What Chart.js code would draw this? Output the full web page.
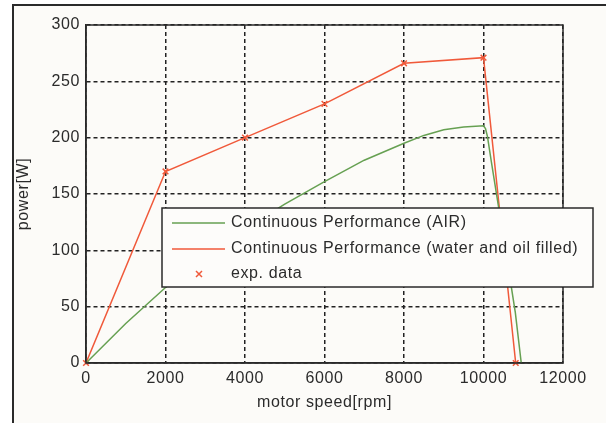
<!DOCTYPE html>
<html>
<head>
<meta charset="utf-8">
<script src="https://cdn.jsdelivr.net/npm/chart.js@4.4.1/dist/chart.umd.min.js"></script>
<style>
  html, body { margin: 0; padding: 0; background: #ffffff; }
  #wrap { position: relative; width: 606px; height: 423px; overflow: hidden; }
  #frame {
    position: absolute; left: 12px; top: 4px; width: 620px; height: 440px;
    border: 2px solid #2a2a2a; background: #fcfbf8; box-sizing: border-box;
  }
  #chart { position: absolute; left: 0; top: 0; }
</style>
</head>
<body>
<div id="wrap">
  <div id="frame"></div>
  <canvas id="chart" width="606" height="423"></canvas>
</div>
<script>
// x axis ticks (rpm) and y axis ticks (W)
const speedTicks = [0, 2000, 4000, 6000, 8000, 10000, 12000];
const powerTicks = [0, 50, 100, 150, 200, 250, 300];

// Continuous Performance (AIR)
const airSpeed = [0, 1000, 2000, 3000, 4000, 5000, 6000, 7000, 8000, 8500, 9000, 9500, 10000, 10050, 10100, 10200, 10400, 10600, 10800, 10950];
const airPower = [0, 35, 67, 95, 119, 141, 161, 180, 195, 202, 207, 209.5, 210.5, 208, 201, 178, 134, 90, 45, 0];

// Continuous Performance (water and oil filled) + exp. data
const oilSpeed = [0, 2000, 4000, 6000, 8000, 10000, 10810];
const oilPower = [0, 170, 200, 230, 266, 271, 0];

const legendLabels = [
    'Continuous Performance (AIR)',
    'Continuous Performance (water and oil filled)',
    'exp. data'
];

const GREEN = '#66a052';
const RED = '#f0593a';
const FONT = "'Liberation Sans', Arial, sans-serif";
const SPACING = '0.6px';

const toPoints = (xs, ys) => xs.map((x, i) => ({ x: x, y: ys[i] }));

// wider text, like the original picture
const spacingPlugin = {
    id: 'spacingPlugin',
    beforeDraw(chart) {
        chart.ctx.letterSpacing = SPACING;
    }
};

// frame around the plot and the boxed legend inside it
const boxPlugin = {
    id: 'boxPlugin',
    afterDatasetsDraw(chart) {
        const ctx = chart.ctx;
        const a = chart.chartArea;
        ctx.save();
        ctx.strokeStyle = '#2a2a2a';
        ctx.lineWidth = 1.5;
        ctx.setLineDash([]);
        ctx.strokeRect(a.left, a.top, a.right - a.left, a.bottom - a.top);

        // legend box
        const lx = 162, ly = 208, lw = 431, lh = 79;
        ctx.fillStyle = '#fdfcfa';
        ctx.fillRect(lx, ly, lw, lh);
        ctx.strokeRect(lx, ly, lw, lh);

        const rows = [223, 249, 274];
        ctx.lineWidth = 1.5;
        ctx.strokeStyle = GREEN;
        ctx.beginPath(); ctx.moveTo(172, rows[0]); ctx.lineTo(225, rows[0]); ctx.stroke();
        ctx.strokeStyle = RED;
        ctx.beginPath(); ctx.moveTo(172, rows[1]); ctx.lineTo(225, rows[1]); ctx.stroke();
        ctx.beginPath();
        ctx.moveTo(196, rows[2] - 3); ctx.lineTo(202, rows[2] + 3);
        ctx.moveTo(202, rows[2] - 3); ctx.lineTo(196, rows[2] + 3);
        ctx.stroke();

        ctx.fillStyle = '#2b2b2b';
        ctx.font = '16px ' + FONT;
        ctx.letterSpacing = SPACING;
        ctx.textBaseline = 'middle';
        ctx.textAlign = 'left';
        legendLabels.forEach((t, i) => ctx.fillText(t, 231, rows[i]));
        ctx.restore();
    }
};

const ctx = document.getElementById('chart').getContext('2d');
new Chart(ctx, {
    type: 'line',
    data: {
        datasets: [
            {
                label: legendLabels[0],
                data: toPoints(airSpeed, airPower),
                borderColor: GREEN,
                borderWidth: 1.5,
                pointRadius: 0,
                tension: 0
            },
            {
                label: legendLabels[1],
                data: toPoints(oilSpeed, oilPower),
                borderColor: RED,
                borderWidth: 1.5,
                pointRadius: 0,
                tension: 0
            },
            {
                label: legendLabels[2],
                data: toPoints(oilSpeed, oilPower),
                showLine: false,
                pointStyle: 'crossRot',
                pointRadius: 4,
                pointBorderColor: RED,
                pointBorderWidth: 1.5,
                borderColor: RED,
                clip: false
            }
        ]
    },
    options: {
        responsive: false,
        animation: false,
        events: [],
        layout: { padding: { left: 0, top: 25, right: 43, bottom: 0 } },
        plugins: { legend: { display: false }, tooltip: { enabled: false } },
        scales: {
            x: {
                type: 'linear',
                min: speedTicks[0],
                max: speedTicks[speedTicks.length - 1],
                afterBuildTicks: (s) => { s.ticks = speedTicks.map(v => ({ value: v })); },
                afterFit: (s) => { s.height = 60; },
                ticks: {
                    color: '#2b2b2b',
                    font: { family: FONT, size: 16 },
                    padding: 6,
                    maxRotation: 0,
                    callback: (v) => String(v)
                },
                grid: { color: '#222', lineWidth: 1.5, drawTicks: false },
                border: { color: '#2a2a2a', width: 1.5, dash: [4, 3] },
                title: {
                    display: true,
                    text: 'motor speed[rpm]',
                    color: '#2b2b2b',
                    font: { family: FONT, size: 16 },
                    padding: { top: 0, bottom: 11 }
                }
            },
            y: {
                min: powerTicks[0],
                max: powerTicks[powerTicks.length - 1],
                afterBuildTicks: (s) => { s.ticks = powerTicks.map(v => ({ value: v })); },
                afterFit: (s) => { s.width = 86; },
                ticks: {
                    color: '#2b2b2b',
                    font: { family: FONT, size: 16 },
                    padding: 6,
                    callback: (v) => String(v)
                },
                grid: { color: '#222', lineWidth: 1.5, drawTicks: false },
                border: { color: '#2a2a2a', width: 1.5, dash: [4, 3] },
                title: {
                    display: true,
                    text: 'power[W]',
                    color: '#2b2b2b',
                    font: { family: FONT, size: 16 },
                    padding: { top: 14, bottom: 0 }
                }
            }
        }
    },
    plugins: [spacingPlugin, boxPlugin]
});
</script>
</body>
</html>
